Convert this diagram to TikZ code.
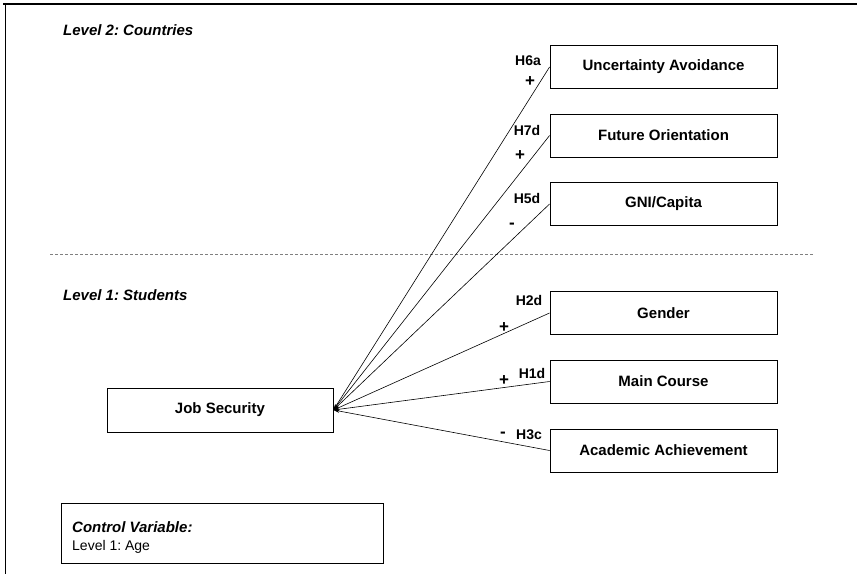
\documentclass[tikz,border=0pt]{standalone}
\usepackage{fontspec}
\setmainfont{Liberation Sans}
\usetikzlibrary{arrows.meta}
\begin{document}
\frenchspacing
\begin{tikzpicture}[x=1pt,y=-1pt,
  varbox/.style={draw, line width=0.9pt, minimum width=227pt, minimum height=43pt,
    inner sep=0pt, font=\fontsize{15}{17}\selectfont\bfseries},
  hyp/.style={font=\fontsize{14}{16}\selectfont\bfseries, inner sep=0pt},
  sgn/.style={font=\fontsize{17}{18}\selectfont\bfseries, inner sep=0pt},
  lvl/.style={font=\fontsize{15}{17}\selectfont\bfseries\itshape, inner sep=0pt, anchor=west},
  path/.style={line width=0.6pt, -{Stealth[length=6pt,width=3.5pt]}}]
\useasboundingbox (0,0) rectangle (857,574);

% frame
\draw[line width=1.4pt] (3,4) -- (857,4);
\draw[line width=0.9pt] (5,4) -- (5,574);

% level divider
\draw[gray, line width=0.9pt, dash pattern=on 3pt off 2pt] (50,254) -- (814,254);
\node[lvl] (lv2) at (63,30) {Level 2: Countries};
\node[lvl] (lv1) at (63,295) {Level 1: Students};

% predictors
\node[varbox] (ua)  at (663.5,67)    {Uncertainty Avoidance};
\node[varbox] (fo)  at (663.5,135.5) {Future Orientation};
\node[varbox] (gni) at (663.5,204)   {GNI/Capita};
\node[varbox] (gen) at (663.5,313)   {Gender};
\node[varbox] (mc)  at (663.5,381.5) {Main Course};
\node[varbox] (aa)  at (663.5,450.5) {Academic Achievement};

% outcome
\node[varbox, minimum width=226pt, minimum height=44pt] (js) at (220,410) {Job Security};

% paths
\foreach \n in {ua,fo,gni,gen,mc,aa}
  \draw[path] (\n.west) -- (js.east);

% hypothesis labels
\node[hyp] (h6a) at (528,61)  {H6a};
\node[sgn] (s6a) at (530,82)  {+};
\node[hyp] (h7d) at (527,130) {H7d};
\node[sgn] (s7d) at (520,156) {+};
\node[hyp] (h5d) at (527,198) {H5d};
\node[sgn] (s5d) at (512,226) {-};
\node[hyp] (h2d) at (529,300) {H2d};
\node[sgn] (s2d) at (504,328) {+};
\node[hyp] (h1d) at (532,373) {H1d};
\node[sgn] (s1d) at (504,381) {+};
\node[hyp] (h3c) at (529,435) {H3c};
\node[sgn] (s3c) at (503,435) {-};

% control variable
\node[draw, line width=0.9pt, minimum width=322pt, minimum height=60pt, inner sep=0pt] (ctrl) at (222,533) {};
\node[anchor=base west, inner sep=0pt, font=\fontsize{15}{17}\selectfont\bfseries\itshape] (ctrlhead) at (72,532) {Control Variable:};
\node[anchor=base west, inner sep=0pt, font=\fontsize{14}{16}\selectfont] (ctrlbody) at (72,550) {Level 1: Age};
\end{tikzpicture}
\end{document}
